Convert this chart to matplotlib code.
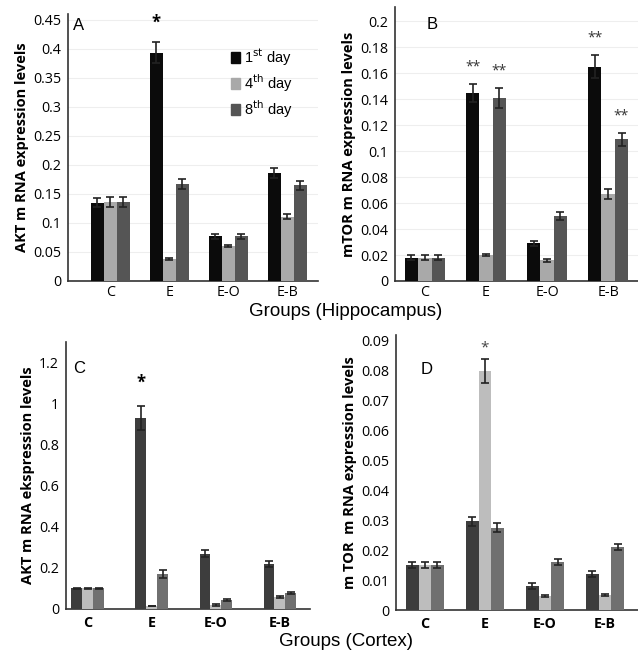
import numpy as np
import matplotlib
matplotlib.use('Agg')
import matplotlib.pyplot as plt
from matplotlib.patches import Patch

plt.rcParams['font.family'] = ['Open Sans', 'DejaVu Sans']

groups = ['C', 'E', 'E-O', 'E-B']
days = ['1$^{\\rm st}$ day', '4$^{\\rm th}$ day', '8$^{\\rm th}$ day']

# Panel A - AKT hippocampus
akt_hip = [[0.135, 0.393, 0.077, 0.186],
           [0.136, 0.038, 0.060, 0.111],
           [0.136, 0.167, 0.077, 0.165]]
akt_hip_err = [[0.008, 0.018, 0.004, 0.008],
               [0.008, 0.001, 0.002, 0.004],
               [0.008, 0.008, 0.004, 0.008]]

# Panel B - mTOR hippocampus
mtor_hip = [[0.018, 0.145, 0.029, 0.165],
            [0.018, 0.020, 0.016, 0.067],
            [0.018, 0.141, 0.050, 0.109]]
mtor_hip_err = [[0.002, 0.007, 0.002, 0.009],
                [0.002, 0.001, 0.001, 0.004],
                [0.002, 0.008, 0.003, 0.005]]

# Panel C - AKT cortex
akt_ctx = [[0.100, 0.930, 0.270, 0.220],
           [0.100, 0.015, 0.020, 0.060],
           [0.100, 0.170, 0.045, 0.080]]
akt_ctx_err = [[0.003, 0.060, 0.015, 0.015],
               [0.003, 0.002, 0.003, 0.005],
               [0.003, 0.018, 0.005, 0.005]]

# Panel D - mTOR cortex
mtor_ctx = [[0.0152, 0.0297, 0.0080, 0.0120],
            [0.0150, 0.0800, 0.0047, 0.0050],
            [0.0152, 0.0275, 0.0162, 0.0210]]
mtor_ctx_err = [[0.001, 0.0015, 0.001, 0.001],
                [0.001, 0.004, 0.0003, 0.0003],
                [0.001, 0.0015, 0.001, 0.001]]

hip_colors = ['#0b0b0b', '#a9a9a9', '#555555']
ctx_colors = ['#3d3d3d', '#bdbdbd', '#707070']

fig = plt.figure(figsize=(6.38, 6.56), dpi=100)
W, H = 638, 656


def make_ax(left, right, top, bottom):
    return fig.add_axes([left / W, 1 - bottom / H, (right - left) / W, (bottom - top) / H])


def draw_panel(ax, vals, errs, colors, width, ylim, yticks, ylabel, letter, letter_xy,
               xlim, grid, tick_bold, xpad):
    x = np.arange(len(groups))
    for i in range(3):
        ax.bar(x + (i - 1) * width, vals[i], width, yerr=errs[i], color=colors[i],
               error_kw=dict(ecolor='#222222', elinewidth=1.2, capsize=3, capthick=1.2),
               zorder=3)
    ax.set_xlim(*xlim)
    ax.set_ylim(*ylim)
    ax.set_yticks(yticks)
    ax.set_yticklabels([('%g' % t) for t in yticks])
    ax.set_xticks(x)
    ax.set_xticklabels(groups, fontweight='bold' if tick_bold else 'normal')
    ax.tick_params(axis='both', length=0, labelsize=10.3, pad=5)
    ax.tick_params(axis='x', pad=xpad)
    for s in ['top', 'right']:
        ax.spines[s].set_visible(False)
    ax.spines['left'].set_linewidth(1.2)
    ax.spines['bottom'].set_linewidth(1.2)
    ax.spines['left'].set_color('#333333')
    ax.spines['bottom'].set_color('#333333')
    if grid:
        ax.yaxis.grid(True, color='#eeeeee', linewidth=0.8, zorder=0)
    ax.set_ylabel(ylabel, fontsize=10.5, fontweight='bold', labelpad=3)
    ax.text(letter_xy[0], letter_xy[1], letter, transform=ax.transAxes, fontsize=12,
            family='Liberation Sans', va='top', ha='left')
    return x


# A
axA = make_ax(68, 318, 14, 281)
x = draw_panel(axA, akt_hip, akt_hip_err, hip_colors, 0.22, (0, 0.46),
               [0, 0.05, 0.1, 0.15, 0.2, 0.25, 0.3, 0.35, 0.4, 0.45],
               'AKT m RNA expression levels', 'A', (0.02, 0.985),
               (-0.72, 3.52), True, False, 3)
axA.text(x[1] - 0.22, 0.445, '*', ha='center', va='center', fontsize=12, fontweight='bold')
handles = [Patch(color=c) for c in hip_colors]
axA.legend(handles, days, loc='upper left', bbox_to_anchor=(0.6, 0.93), frameon=False,
           handlelength=0.6, handleheight=0.8, handletextpad=0.3, labelspacing=0.3,
           prop={'family': 'Liberation Sans', 'size': 10.5})

# B
axB = make_ax(395, 638, 7, 281)
x = draw_panel(axB, mtor_hip, mtor_hip_err, hip_colors, 0.22, (0, 0.211),
               [0, 0.02, 0.04, 0.06, 0.08, 0.1, 0.12, 0.14, 0.16, 0.18, 0.2],
               'mTOR m RNA expression levels', 'B', (0.13, 0.965),
               (-0.49, 3.49), True, False, 3)
for gi, di in [(1, 0), (1, 2), (3, 0), (3, 2)]:
    top = mtor_hip[di][gi] + mtor_hip_err[di][gi]
    axB.text(x[gi] + (di - 1) * 0.22, top + 0.007, '**', ha='center', va='bottom',
             fontsize=10, color='#333333')

# C
axC = make_ax(66, 310, 342, 609)
x = draw_panel(axC, akt_ctx, akt_ctx_err, ctx_colors, 0.17, (0, 1.3),
               [0, 0.2, 0.4, 0.6, 0.8, 1, 1.2],
               'AKT m RNA ekspression levels', 'C', (0.03, 0.93),
               (-0.34, 3.47), False, True, 5)
axC.text(x[1] - 0.17, 1.1, '*', ha='center', va='center', fontsize=12, fontweight='bold')

# D
axD = make_ax(396, 638, 335, 610)
x = draw_panel(axD, mtor_ctx, mtor_ctx_err, ctx_colors, 0.21, (0, 0.092),
               [0, 0.01, 0.02, 0.03, 0.04, 0.05, 0.06, 0.07, 0.08, 0.09],
               'm TOR  m RNA expression levels', 'D', (0.1, 0.9),
               (-0.48, 3.55), False, True, 5)
axD.text(x[1], 0.0875, '*', ha='center', va='center', fontsize=11, color='#444444')

fig.text(346 / W, 1 - 312 / H, 'Groups (Hippocampus)', ha='center', va='center',
         fontsize=13.5, family='Liberation Sans')
fig.text(346 / W, 1 - 642 / H, 'Groups (Cortex)', ha='center', va='center',
         fontsize=13.5, family='Liberation Sans')

fig.savefig('out.png', dpi=100)
